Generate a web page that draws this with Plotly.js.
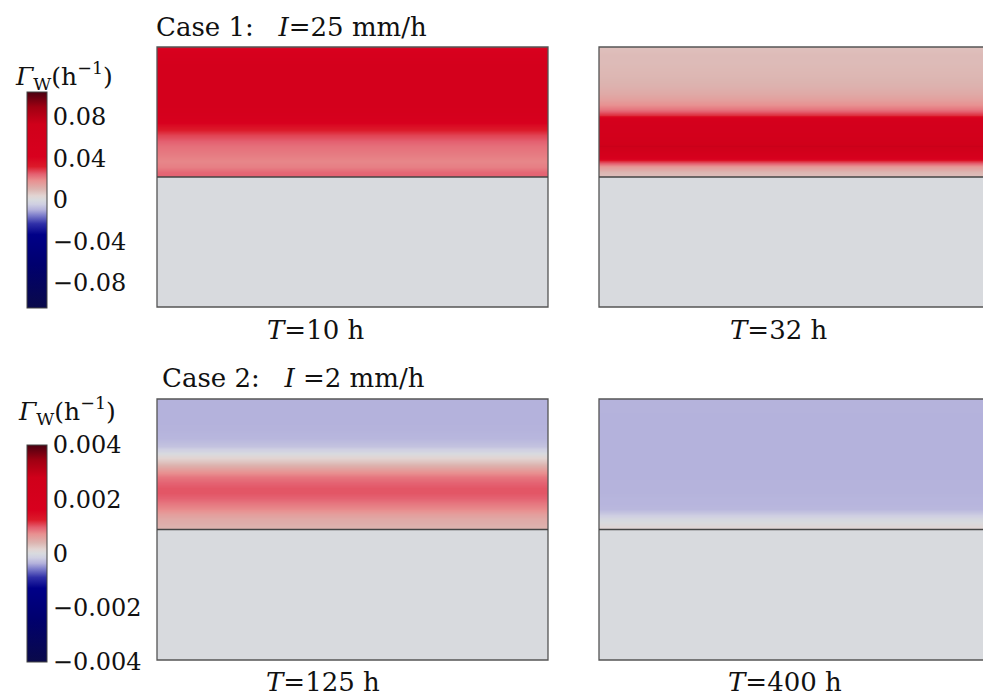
<!DOCTYPE html>
<html><head><meta charset="utf-8">
<script src="https://cdn.plot.ly/plotly-3.0.1.min.js"></script>
<style>html,body{margin:0;padding:0;background:#fff}#chart{width:983px;height:698px}</style>
</head><body><div id="chart"></div>
<script>
// Relative depth (0 = top of domain, 0.5 = layer interface, 1 = bottom)
const depth = [0, 0.03, 0.06, 0.09, 0.12, 0.15, 0.18, 0.2, 0.22, 0.24, 0.26, 0.28, 0.3, 0.32, 0.34, 0.36, 0.38, 0.4, 0.42, 0.44, 0.46, 0.48, 0.499, 0.501, 0.75, 1.0];
const xPos = [0, 1];
// Γw (h^-1) profiles
const gammaCase1T10 = [0.038, 0.05, 0.055, 0.057, 0.058, 0.058, 0.058, 0.057, 0.056, 0.055, 0.052, 0.046, 0.038, 0.032, 0.028, 0.025, 0.023, 0.022, 0.021, 0.02, 0.021, 0.024, 0.025, 0, 0, 0];
const gammaCase1T32 = [0.008, 0.009, 0.009, 0.0095, 0.01, 0.011, 0.013, 0.015, 0.018, 0.022, 0.03, 0.055, 0.06, 0.06, 0.062, 0.068, 0.075, 0.065, 0.055, 0.03, 0.016, 0.01, 0.008, 0, 0, 0];
const gammaCase2T125 = [-0.00036, -0.00036, -0.00036, -0.00036, -0.00035, -0.00033, -0.00025, -0.0001, 0.0001, 0.0003, 0.0005, 0.0007, 0.00085, 0.00095, 0.001, 0.001, 0.00095, 0.00085, 0.00075, 0.0006, 0.0005, 0.00045, 0.0004, 0, 0, 0];
const gammaCase2T400 = [-0.00035, -0.00035, -0.00036, -0.00036, -0.00036, -0.00036, -0.00036, -0.00036, -0.00036, -0.00036, -0.00036, -0.00036, -0.00036, -0.00035, -0.00035, -0.00035, -0.00034, -0.00034, -0.00032, -0.0002, -0.00005, 0.00005, 0.00015, 0, 0, 0];

const panelLabels = ["<i>T</i>=10 h", "<i>T</i>=32 h", "<i>T</i>=125 h", "<i>T</i>=400 h"];
const caseLabels = ["Case 1:\u00a0\u00a0\u00a0<i>I</i>=25 mm/h", "Case 2:\u00a0\u00a0\u00a0<i>I</i>\u00a0=2 mm/h"];
const cbTitle = "<i>Γ</i><sub>W</sub>(h<sup>−1</sup>)";
const cb1Ticks = [-0.08, -0.04, 0, 0.04, 0.08];
const cb1Text = ["−0.08", "−0.04", "0", "0.04", "0.08"];
const cb2Ticks = [-0.004, -0.002, 0, 0.002, 0.004];
const cb2Text = ["−0.004", "−0.002", "0", "0.002", "0.004"];

const cs = [
  [0, '#0a0a4a'], [0.2, '#00006e'], [0.34, '#000088'], [0.39, '#3030a8'], [0.43, '#8080cc'],
  [0.455, '#b4b2dc'], [0.48, '#cfcfe2'], [0.5, '#d8dade'], [0.52, '#e2d4d2'], [0.55, '#dcb4b0'],
  [0.59, '#e89090'], [0.62, '#e46070'], [0.655, '#dc1a2a'], [0.7, '#d8001e'], [0.85, '#d0001a'],
  [0.93, '#a00012'], [1, '#4a0010']
];

function grid(profile) { return profile.map(v => xPos.map(() => v)); }

const FONT = 'DejaVu Serif, Liberation Serif, serif';
const W = 983, H = 698;
const px = v => v / W, py = v => 1 - v / H;

const panels = [
  {prof: gammaCase1T10, ax: '', ca: 'coloraxis', x0: 157, x1: 548, y0: 47, y1: 307, ext: 0},
  {prof: gammaCase1T32, ax: '2', ca: 'coloraxis', x0: 599, x1: 983, y0: 47, y1: 307, ext: 0.02},
  {prof: gammaCase2T125, ax: '3', ca: 'coloraxis2', x0: 157, x1: 548, y0: 399, y1: 660, ext: 0},
  {prof: gammaCase2T400, ax: '4', ca: 'coloraxis2', x0: 599, x1: 983, y0: 399, y1: 660, ext: 0.02}
];

const traces = [];
const layout = {
  width: W, height: H, margin: {l: 0, r: 0, t: 0, b: 0},
  paper_bgcolor: '#fff', plot_bgcolor: '#fff', showlegend: false,
  font: {family: FONT, color: '#111'},
  shapes: [], annotations: []
};

panels.forEach(p => {
  traces.push({type: 'heatmap', x: xPos, y: depth, z: grid(p.prof), coloraxis: p.ca,
    zsmooth: 'best', xaxis: 'x' + p.ax, yaxis: 'y' + p.ax, hoverinfo: 'skip'});
  const xd = [px(p.x0), px(p.x1)];
  const yd = [py(p.y1), py(p.y0)];
  layout['xaxis' + p.ax] = {domain: xd, range: [0, 1], visible: false, fixedrange: true};
  layout['yaxis' + p.ax] = {domain: yd, range: [1, 0], visible: false, fixedrange: true};
  layout.shapes.push({type: 'rect', xref: 'paper', yref: 'paper', x0: px(p.x0), x1: px(p.x1) + p.ext,
    y0: py(p.y1), y1: py(p.y0), line: {color: '#555', width: 1.3}, fillcolor: 'rgba(0,0,0,0)'});
  const ym = (py(p.y1) + py(p.y0)) / 2;
  layout.shapes.push({type: 'line', xref: 'paper', yref: 'paper', x0: px(p.x0), x1: px(p.x1) + p.ext,
    y0: ym, y1: ym, line: {color: '#444', width: 1.6}});
});

function cbar(yc, len, ticks, text) {
  return {x: px(27), xanchor: 'left', y: yc, yanchor: 'middle', len: len, lenmode: 'fraction',
    thickness: 20, thicknessmode: 'pixels', xpad: 0, ypad: 0, outlinewidth: 1, outlinecolor: '#444',
    tickvals: ticks, ticktext: text, ticks: '', tickfont: {family: FONT, size: 24, color: '#111'}};
}
layout.coloraxis = {cmin: -0.104, cmax: 0.104, colorscale: cs, colorbar: cbar(py(200), 216 / H, cb1Ticks, cb1Text)};
layout.coloraxis2 = {cmin: -0.004, cmax: 0.004, colorscale: cs, colorbar: cbar(py(553.5), 217 / H, cb2Ticks, cb2Text)};

const labelPos = [[315, 330], [778, 330], [323, 682], [785, 682]];
panelLabels.forEach((t, i) => layout.annotations.push({text: t, xref: 'paper', yref: 'paper',
  x: px(labelPos[i][0]), y: py(labelPos[i][1]), xanchor: 'center', yanchor: 'middle', showarrow: false,
  font: {family: FONT, size: 26, color: '#111'}}));
const casePos = [[154, 27], [160, 378]];
caseLabels.forEach((t, i) => layout.annotations.push({text: t, xref: 'paper', yref: 'paper',
  x: px(casePos[i][0]), y: py(casePos[i][1]), xanchor: 'left', yanchor: 'middle', showarrow: false,
  font: {family: FONT, size: 26, color: '#111'}}));
[[13, 76], [16, 411]].forEach(p => layout.annotations.push({text: cbTitle, xref: 'paper', yref: 'paper',
  x: px(p[0]), y: py(p[1]), xanchor: 'left', yanchor: 'middle', showarrow: false,
  font: {family: FONT, size: 25, color: '#111'}}));

Plotly.newPlot('chart', traces, layout, {displayModeBar: false, staticPlot: true});
</script></body></html>
